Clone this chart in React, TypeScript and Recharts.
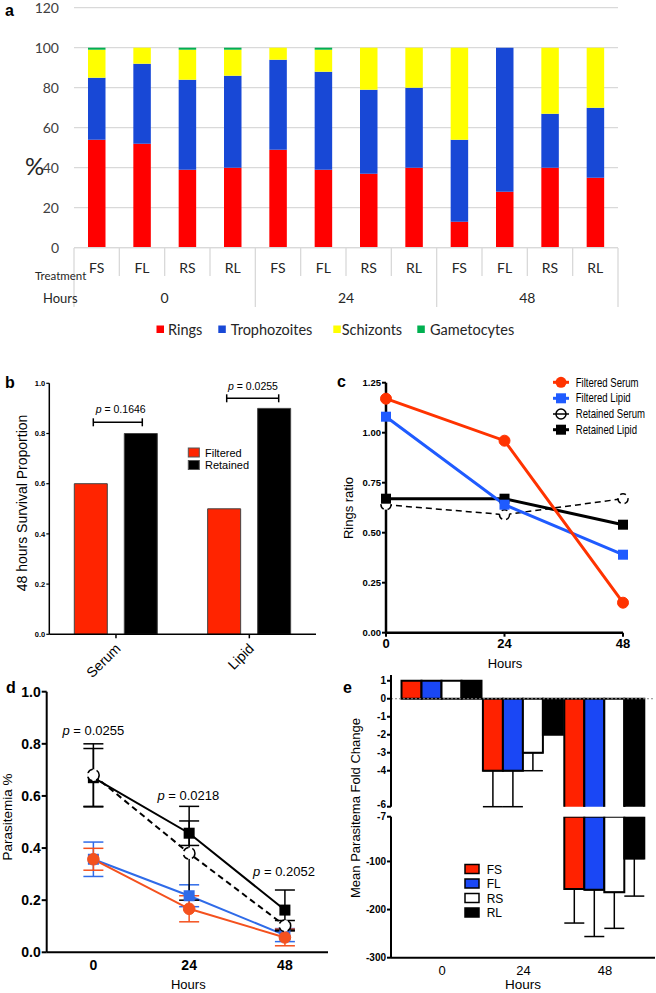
import React from "react";
import {
  BarChart,
  Bar,
  LineChart,
  Line,
  XAxis,
  YAxis,
  CartesianGrid,
  ErrorBar,
  ReferenceLine,
} from "recharts";

const EXCEL_FONT = "Lato, 'Open Sans', sans-serif";
const PRISM_FONT = "'Liberation Sans', Arial, Helvetica, sans-serif";

// ---- a: stage distribution (%) ----
const treatments = ["FS", "FL", "RS", "RL", "FS", "FL", "RS", "RL", "FS", "FL", "RS", "RL"];
const hourGroups = ["0", "0", "0", "0", "24", "24", "24", "24", "48", "48", "48", "48"];
const rings = [54, 52, 39, 40, 49, 39, 37, 40, 13, 28, 40, 35];
const trophozoites = [31, 40, 45, 46, 45, 49, 42, 40, 41, 72, 27, 35];
const schizonts = [14, 8, 15, 13, 6, 11, 21, 20, 46, 0, 33, 30];
const gametocytes = [1, 0, 1, 1, 0, 1, 0, 0, 0, 0, 0, 0];

// ---- b: 48 h survival proportion ----
const survivalGroups = ["Serum", "Lipid"];
const survivalFiltered = [0.6, 0.5];
const survivalRetained = [0.8, 0.9];
const survivalPValues = ["0.1646", "0.0255"];

// ---- c: rings ratio ----
const ringHours = [0, 24, 48];
const ringsFilteredSerum = [1.17, 0.96, 0.15];
const ringsFilteredLipid = [1.08, 0.64, 0.39];
const ringsRetainedSerum = [0.64, 0.59, 0.67];
const ringsRetainedLipid = [0.67, 0.67, 0.54];

// ---- d: parasitemia % ----
const parasHours = [0, 24, 48];
const parasFS = [0.357, 0.167, 0.057];
const parasFSErr = [0.042, 0.05, 0.032];
const parasFL = [0.357, 0.217, 0.066];
const parasFLErr = [0.066, 0.042, 0.025];
const parasRS = [0.68, 0.38, 0.102];
const parasRSErr = [0.12, 0.18, 0.02];
const parasRL = [0.67, 0.457, 0.162];
const parasRLErr = [0.112, 0.047, 0.077];
const parasPValues = ["0.0255", "0.0218", "0.2052"];

// ---- e: mean parasitemia fold change ----
const foldHours = ["0", "24", "48"];
const foldFS = [1, -4, -157];
const foldFL = [1, -4, -159];
const foldRS = [1, -3, -164];
const foldRL = [1, -2, -94];
const foldErrFS = [0, 2, 71];
const foldErrFL = [0, 2, 97];
const foldErrRS = [0, 1, 75];
const foldErrRL = [0, 0, 78];

const stageData = treatments.map((t, i) => ({
  treatment: t,
  hours: hourGroups[i],
  rings: rings[i],
  trophozoites: trophozoites[i],
  schizonts: schizonts[i],
  gametocytes: gametocytes[i],
}));

const survivalData = survivalGroups.map((g, i) => ({
  group: g,
  filtered: survivalFiltered[i],
  retained: survivalRetained[i],
}));

const ringsData = ringHours.map((h, i) => ({
  hour: h,
  filteredSerum: ringsFilteredSerum[i],
  filteredLipid: ringsFilteredLipid[i],
  retainedSerum: ringsRetainedSerum[i],
  retainedLipid: ringsRetainedLipid[i],
}));

const parasData = parasHours.map((h, i) => ({
  hour: h,
  fs: parasFS[i],
  fsErr: parasFSErr[i],
  fl: parasFL[i],
  flErr: parasFLErr[i],
  rs: parasRS[i],
  rsErr: parasRSErr[i],
  rl: parasRL[i],
  rlErr: parasRLErr[i],
}));

const foldSeries = [
  { key: "FS", values: foldFS, err: foldErrFS, fill: "#FF2200" },
  { key: "FL", values: foldFL, err: foldErrFL, fill: "#1A47F5" },
  { key: "RS", values: foldRS, err: foldErrRS, fill: "#FFFFFF" },
  { key: "RL", values: foldRL, err: foldErrRL, fill: "#000000" },
];

const UPPER_MIN = -6;
const LOWER_MAX = -7;

// upper segment keeps every bar (clipped at -6), lower segment only the big drops
const foldUpper = foldHours.map((h, i) => {
  const row: any = { hour: h };
  foldSeries.forEach((s) => {
    row[s.key] = s.values[i];
    row[s.key + "Err"] = s.err[i] > 0 && s.values[i] >= UPPER_MIN ? [s.err[i], 0] : null;
  });
  return row;
});

const foldLower = foldHours.map((h, i) => {
  const row: any = { hour: h };
  foldSeries.forEach((s) => {
    row[s.key] = s.values[i] < LOWER_MAX ? s.values[i] : null;
    row[s.key + "Err"] = s.err[i] > 0 && s.values[i] < LOWER_MAX ? [s.err[i], 0] : null;
  });
  return row;
});

const squareDot = (size: number, fill: string) => (props: any) => {
  const { cx, cy, index } = props;
  if (cx == null || cy == null) return <g key={`e-${index}`} />;
  return (
    <rect key={`sq-${index}`} x={cx - size / 2} y={cy - size / 2} width={size} height={size} fill={fill} />
  );
};

const StageTick = (props: any) => {
  const { x, payload, index } = props;
  const half = payload?.offset || 544 / 24;
  const left = x - half;
  const groupStart = index % 4 === 0;
  return (
    <g>
      <line x1={left} x2={left} y1={248} y2={groupStart ? 307 : 276} stroke="#D9D9D9" strokeWidth={1.3} />
      {index === treatments.length - 1 && (
        <line x1={x + half} x2={x + half} y1={248} y2={307} stroke="#D9D9D9" strokeWidth={1.3} />
      )}
      <text x={x} y={268} dy="0.35em" textAnchor="middle" fontSize={14} fill="#262626" fontFamily={EXCEL_FONT}>
        {payload.value}
      </text>
      {index % 4 === 1 && (
        <text x={x + half} y={298} dy="0.35em" textAnchor="middle" fontSize={14} fill="#262626" fontFamily={EXCEL_FONT}>
          {hourGroups[index]}
        </text>
      )}
    </g>
  );
};

const SurvivalTick = (props: any) => {
  const { x, payload } = props;
  const ax = x + 2;
  const ay = 276;
  return (
    <text
      x={ax}
      y={ay}
      dy="0.35em"
      textAnchor="end"
      transform={`rotate(-45, ${ax}, ${ay})`}
      fontSize={14}
      fill="#000"
      fontFamily={PRISM_FONT}
    >
      {payload.value}
    </text>
  );
};

const prismTick = (size: number) => ({
  fill: "#000",
  fontSize: size,
  fontWeight: 700,
  fontFamily: PRISM_FONT,
});

const blackAxis = (w: number) => ({ stroke: "#000", strokeWidth: w });

const PValue = ({ x, y, value, size }: { x: number; y: number; value: string; size: number }) => (
  <text x={x} y={y} textAnchor="middle" fontSize={size} fontFamily={PRISM_FONT} fill="#000">
    <tspan fontStyle="italic">p</tspan>
    {` = ${value}`}
  </text>
);

const Bracket = ({ x1, x2, y }: { x1: number; x2: number; y: number }) => (
  <g stroke="#000" strokeWidth={1.5}>
    <line x1={x1} x2={x2} y1={y} y2={y} />
    <line x1={x1} x2={x1} y1={y - 4} y2={y + 4} />
    <line x1={x2} x2={x2} y1={y - 4} y2={y + 4} />
  </g>
);

const ringLegend = ["Filtered Serum", "Filtered Lipid", "Retained Serum", "Retained Lipid"];

const Overlay = () => (
  <svg
    width={656}
    height={993}
    style={{ position: "absolute", left: 0, top: 0, pointerEvents: "none" }}
  >
    {/* panel letters */}
    <g fontFamily={PRISM_FONT} fontWeight={700} fontSize={16} fill="#000">
      <text x={5} y={16}>a</text>
      <text x={5} y={388}>b</text>
      <text x={337} y={387}>c</text>
      <text x={6} y={693}>d</text>
      <text x={343} y={693}>e</text>
    </g>

    {/* a labels + legend */}
    <text x={25} y={175} fontSize={24} fontFamily={EXCEL_FONT} fill="#262626">%</text>
    <text x={35} y={280} fontSize={11.5} fontFamily={EXCEL_FONT} fill="#262626">Treatment</text>
    <text x={43} y={303} fontSize={13} fontFamily={EXCEL_FONT} fill="#262626">Hours</text>
    <g fontFamily={EXCEL_FONT} fontSize={14.5} fill="#262626">
      <rect x={156.5} y={325.5} width={7.5} height={7.5} fill="#FF0000" />
      <text x={168} y={334.5}>Rings</text>
      <rect x={218.3} y={325.5} width={7.5} height={7.5} fill="#1848D6" />
      <text x={230.7} y={334.5}>Trophozoites</text>
      <rect x={333.3} y={325.5} width={7.5} height={7.5} fill="#FFFF00" />
      <text x={341.7} y={334.5}>Schizonts</text>
      <rect x={417.3} y={325.5} width={7.5} height={7.5} fill="#00B050" />
      <text x={430} y={334.5}>Gametocytes</text>
    </g>

    {/* b labels */}
    <text
      transform="translate(22,503) rotate(-90)"
      textAnchor="middle"
      dy="0.35em"
      fontSize={14}
      fontFamily={PRISM_FONT}
      fill="#000"
    >
      48 hours Survival Proportion
    </text>
    <PValue x={120.7} y={412.5} value={survivalPValues[0]} size={10.5} />
    <Bracket x1={93.3} x2={142.3} y={422.3} />
    <PValue x={253} y={389.5} value={survivalPValues[1]} size={10.5} />
    <Bracket x1={226.7} x2={278.7} y={398.3} />
    <g fontFamily={PRISM_FONT} fontSize={11} fill="#000">
      <rect x={188.3} y={448} width={11} height={9} fill="#FF2400" stroke="#555" strokeWidth={1} />
      <text x={205} y={456.5}>Filtered</text>
      <rect x={188.3} y={460.5} width={11} height={9} fill="#000" stroke="#555" strokeWidth={1} />
      <text x={205} y={469}>Retained</text>
    </g>

    {/* c labels + legend */}
    <text
      transform="translate(348,508) rotate(-90)"
      textAnchor="middle"
      dy="0.35em"
      fontSize={13}
      fontFamily={PRISM_FONT}
      fill="#000"
    >
      Rings ratio
    </text>
    <text x={505} y={668} textAnchor="middle" fontSize={13} fontFamily={PRISM_FONT} fill="#000">Hours</text>
    <g>
      <line x1={553} x2={569} y1={382.3} y2={382.3} stroke="#FF3300" strokeWidth={3} />
      <circle cx={561} cy={382.3} r={5.5} fill="#FF3300" />
      <line x1={553} x2={569} y1={398.3} y2={398.3} stroke="#1F5BFF" strokeWidth={3} />
      <rect x={556} y={393.3} width={10} height={10} fill="#1F5BFF" />
      <line x1={553} x2={569} y1={414} y2={414} stroke="#000" strokeWidth={1.5} />
      <circle cx={561} cy={414} r={5} fill="none" stroke="#000" strokeWidth={1.5} />
      <line x1={553} x2={569} y1={429.7} y2={429.7} stroke="#000" strokeWidth={3} />
      <rect x={556} y={424.7} width={10} height={10} fill="#000" />
    </g>
    <g transform="translate(575.7,0) scale(0.8,1)" fontFamily={PRISM_FONT} fontSize={12} fill="#000">
      {ringLegend.map((label, i) => (
        <text key={label} x={0} y={386.6 + i * 15.8}>
          {label}
        </text>
      ))}
    </g>

    {/* d labels */}
    <text
      transform="translate(7,817) rotate(-90)"
      textAnchor="middle"
      dy="0.35em"
      fontSize={13.5}
      fontFamily={PRISM_FONT}
      fill="#000"
    >
      Parasitemia %
    </text>
    <PValue x={93.3} y={734.5} value={parasPValues[0]} size={13} />
    <PValue x={188.3} y={799.5} value={parasPValues[1]} size={13} />
    <PValue x={284} y={876} value={parasPValues[2]} size={13} />
    <text x={188.3} y={989} textAnchor="middle" fontSize={13} fontFamily={PRISM_FONT} fill="#000">Hours</text>

    {/* e labels + legend */}
    <text
      transform="translate(355,808) rotate(-90)"
      textAnchor="middle"
      dy="0.35em"
      fontSize={13}
      fontFamily={PRISM_FONT}
      fill="#000"
    >
      Mean Parasitema Fold Change
    </text>
    <text x={523} y={989} textAnchor="middle" fontSize={13.5} fontFamily={PRISM_FONT} fill="#000">Hours</text>
    <g fontFamily={PRISM_FONT} fontSize={12} fill="#000">
      {foldSeries.map((s, i) => (
        <g key={s.key}>
          <rect x={465} y={864.5 + i * 14.5} width={14} height={9} fill={s.fill} stroke="#000" strokeWidth={1.5} />
          <text x={486.7} y={873.5 + i * 14.5}>{s.key}</text>
        </g>
      ))}
    </g>
  </svg>
);

export default function App() {
  return (
    <div
      style={{
        position: "absolute",
        left: 0,
        top: 0,
        width: 656,
        height: 993,
        background: "#fff",
        overflow: "hidden",
        fontFamily: PRISM_FONT,
      }}
    >
      {/* a */}
      <div style={{ position: "absolute", left: 0, top: 0 }}>
        <BarChart width={656} height={312} data={stageData} margin={{ top: 7.7, right: 38, bottom: 0, left: 0 }}>
          <CartesianGrid vertical={false} stroke="#D9D9D9" strokeWidth={1.3} />
          <XAxis
            dataKey="treatment"
            interval={0}
            height={64.3}
            axisLine={{ stroke: "#D9D9D9", strokeWidth: 1.3 }}
            tickLine={false}
            tick={<StageTick />}
          />
          <YAxis
            domain={[0, 120]}
            ticks={[0, 20, 40, 60, 80, 100, 120]}
            width={74}
            axisLine={false}
            tickLine={false}
            tickSize={0}
            tickMargin={15}
            tick={{ fill: "#404040", fontSize: 14, fontFamily: EXCEL_FONT }}
          />
          <Bar dataKey="rings" stackId="s" fill="#FF0000" barSize={17.5} isAnimationActive={false} />
          <Bar dataKey="trophozoites" stackId="s" fill="#1848D6" barSize={17.5} isAnimationActive={false} />
          <Bar dataKey="schizonts" stackId="s" fill="#FFFF00" barSize={17.5} isAnimationActive={false} />
          <Bar dataKey="gametocytes" stackId="s" fill="#00B050" barSize={17.5} isAnimationActive={false} />
        </BarChart>
      </div>

      {/* b */}
      <div style={{ position: "absolute", left: 0, top: 370 }}>
        <BarChart
          width={330}
          height={310}
          data={survivalData}
          margin={{ top: 13.3, right: 14, bottom: 0, left: 0 }}
          barGap={17}
          barCategoryGap={25}
        >
          <XAxis
            dataKey="group"
            interval={0}
            height={45.7}
            axisLine={blackAxis(1.5)}
            tickLine={blackAxis(1.5)}
            tickSize={4}
            tick={<SurvivalTick />}
          />
          <YAxis
            domain={[0, 1]}
            ticks={[0, 0.2, 0.4, 0.6, 0.8, 1]}
            tickFormatter={(v: number) => v.toFixed(1)}
            width={49.3}
            axisLine={blackAxis(1.5)}
            tickLine={blackAxis(1.2)}
            tickSize={3}
            tickMargin={1}
            tick={prismTick(7.5)}
          />
          <Bar dataKey="filtered" fill="#FF2400" stroke="#444" strokeWidth={1} barSize={33} isAnimationActive={false} />
          <Bar dataKey="retained" fill="#000000" stroke="#444" strokeWidth={1} barSize={33} isAnimationActive={false} />
        </BarChart>
      </div>

      {/* c */}
      <div style={{ position: "absolute", left: 330, top: 370 }}>
        <LineChart width={326} height={300} data={ringsData} margin={{ top: 12.7, right: 33, bottom: 0, left: 0 }}>
          <XAxis
            type="number"
            dataKey="hour"
            domain={[0, 48]}
            ticks={[0, 24, 48]}
            height={37.3}
            axisLine={blackAxis(2.5)}
            tickLine={blackAxis(2)}
            tickSize={4}
            tick={prismTick(13)}
          />
          <YAxis
            domain={[0, 1.25]}
            ticks={[0, 0.25, 0.5, 0.75, 1, 1.25]}
            tickFormatter={(v: number) => v.toFixed(2)}
            width={56}
            axisLine={blackAxis(2.5)}
            tickLine={blackAxis(2)}
            tickSize={4}
            tickMargin={1}
            tick={prismTick(9.5)}
          />
          <Line
            dataKey="retainedSerum"
            stroke="#000"
            strokeWidth={1.5}
            strokeDasharray="6 4"
            dot={{ r: 5, fill: "#fff", stroke: "#000", strokeWidth: 1.5 }}
            isAnimationActive={false}
          />
          <Line dataKey="retainedLipid" stroke="#000" strokeWidth={3} dot={squareDot(10, "#000")} isAnimationActive={false} />
          <Line dataKey="filteredLipid" stroke="#1F5BFF" strokeWidth={3} dot={squareDot(10, "#1F5BFF")} isAnimationActive={false} />
          <Line
            dataKey="filteredSerum"
            stroke="#FF3300"
            strokeWidth={3}
            dot={{ r: 5.5, fill: "#FF3300", stroke: "#FF3300", strokeWidth: 1 }}
            isAnimationActive={false}
          />
        </LineChart>
      </div>

      {/* d */}
      <div style={{ position: "absolute", left: 0, top: 670 }}>
        <LineChart width={330} height={323} data={parasData} margin={{ top: 21.7, right: 2, bottom: 0, left: 0 }}>
          <XAxis
            type="number"
            dataKey="hour"
            domain={[-11.7, 58.8]}
            ticks={[0, 24, 48]}
            height={40.7}
            axisLine={blackAxis(2)}
            tickLine={false}
            tick={prismTick(14)}
          />
          <YAxis
            domain={[0, 1]}
            ticks={[0, 0.2, 0.4, 0.6, 0.8, 1]}
            tickFormatter={(v: number) => v.toFixed(1)}
            width={46.7}
            axisLine={blackAxis(2)}
            tickLine={blackAxis(2)}
            tickSize={5}
            tickMargin={1}
            tick={prismTick(14)}
          />
          <Line dataKey="fl" stroke="#2F6BE8" strokeWidth={2} dot={squareDot(11, "#2F6BE8")} isAnimationActive={false}>
            <ErrorBar dataKey="flErr" direction="y" width={10} stroke="#2F6BE8" strokeWidth={1.5} />
          </Line>
          <Line
            dataKey="fs"
            stroke="#F4511E"
            strokeWidth={2}
            dot={{ r: 5.8, fill: "#F4511E", stroke: "#F4511E", strokeWidth: 1 }}
            isAnimationActive={false}
          >
            <ErrorBar dataKey="fsErr" direction="y" width={10} stroke="#F4511E" strokeWidth={1.5} />
          </Line>
          <Line dataKey="rl" stroke="#000" strokeWidth={2} dot={squareDot(11, "#000")} isAnimationActive={false}>
            <ErrorBar dataKey="rlErr" direction="y" width={10} stroke="#000" strokeWidth={1.5} />
          </Line>
          <Line
            dataKey="rs"
            stroke="#000"
            strokeWidth={2}
            strokeDasharray="6 4"
            dot={{ r: 5.8, fill: "#fff", stroke: "#000", strokeWidth: 1.5 }}
            isAnimationActive={false}
          >
            <ErrorBar dataKey="rsErr" direction="y" width={10} stroke="#000" strokeWidth={1.5} />
          </Line>
        </LineChart>
      </div>

      {/* e upper segment */}
      <div style={{ position: "absolute", left: 330, top: 660 }}>
        <BarChart
          width={326}
          height={150}
          data={foldUpper}
          margin={{ top: 15, right: 1, bottom: 3.3, left: 0 }}
          barGap={0}
          barCategoryGap={0}
        >
          <XAxis dataKey="hour" hide padding={{ left: 10.5, right: 9.3 }} />
          <YAxis
            domain={[UPPER_MIN, 1.32]}
            ticks={[1, 0, -1, -2, -3, -4, -5, -6]}
            allowDataOverflow
            width={61}
            axisLine={blackAxis(2)}
            tickLine={blackAxis(2)}
            tickSize={4}
            tickMargin={1}
            tick={prismTick(10)}
          />
          <ReferenceLine y={0} stroke="#888" strokeDasharray="2 2" />
          {foldSeries.map((s) => (
            <Bar key={s.key} dataKey={s.key} fill={s.fill} stroke="#000" strokeWidth={2} isAnimationActive={false}>
              <ErrorBar dataKey={s.key + "Err"} direction="y" width={10} stroke="#000" strokeWidth={1.5} />
            </Bar>
          ))}
        </BarChart>
      </div>

      {/* e lower segment */}
      <div style={{ position: "absolute", left: 330, top: 800 }}>
        <BarChart
          width={326}
          height={193}
          data={foldLower}
          margin={{ top: 16.7, right: 1, bottom: 0, left: 0 }}
          barGap={0}
          barCategoryGap={0}
        >
          <XAxis
            dataKey="hour"
            height={35.3}
            padding={{ left: 10.5, right: 9.3 }}
            axisLine={blackAxis(2)}
            tickLine={false}
            tick={{ fill: "#000", fontSize: 13, fontFamily: PRISM_FONT }}
          />
          <YAxis
            domain={[-300, LOWER_MAX]}
            ticks={[LOWER_MAX, -100, -200, -300]}
            allowDataOverflow
            width={61}
            axisLine={blackAxis(2)}
            tickLine={blackAxis(2)}
            tickSize={4}
            tickMargin={1}
            tick={prismTick(10)}
          />
          {foldSeries.map((s) => (
            <Bar key={s.key} dataKey={s.key} fill={s.fill} stroke="#000" strokeWidth={2} isAnimationActive={false}>
              <ErrorBar dataKey={s.key + "Err"} direction="y" width={10} stroke="#000" strokeWidth={1.5} />
            </Bar>
          ))}
        </BarChart>
      </div>

      <Overlay />
    </div>
  );
}
